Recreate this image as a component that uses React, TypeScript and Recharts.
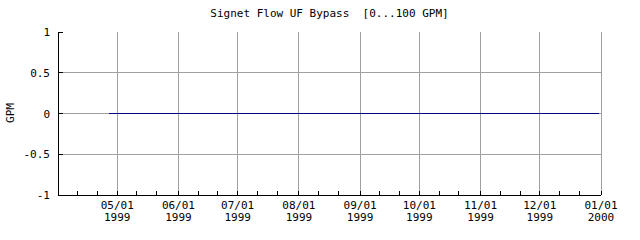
import React from 'react';
import { LineChart, Line, XAxis, YAxis, CartesianGrid } from 'recharts';

// series: Signet flow, UF bypass (GPM), flat at zero from late April
const flowDates = ['1999-04-27', '1999-06-01', '1999-08-01', '1999-10-01', '1999-12-01', '1999-12-31'];
const flowValues = [0, 0, 0, 0, 0, 0];

// axis ticks
const domainStart = '1999-04-01';
const domainEnd = '2000-01-01';
const monthTicks = [
  '1999-05-01', '1999-06-01', '1999-07-01', '1999-08-01', '1999-09-01',
  '1999-10-01', '1999-11-01', '1999-12-01', '2000-01-01',
];
const minorTicks = [
  '1999-04-11', '1999-04-21', '1999-05-11', '1999-05-21', '1999-06-11', '1999-06-21',
  '1999-07-11', '1999-07-21', '1999-08-11', '1999-08-21', '1999-09-11', '1999-09-21',
  '1999-10-11', '1999-10-21', '1999-11-11', '1999-11-21', '1999-12-11', '1999-12-21',
];
const yTicks = [-1, -0.5, 0, 0.5, 1];
const gridValues = [-0.5, 0, 0.5];

const titleText = 'Signet Flow UF Bypass  [0...100 GPM]';
const yLabel = 'GPM';

const FONT = '"DejaVu Sans Mono", "Liberation Mono", monospace';
const navy = '#000080';
const gray = '#a0a0a0';

const toTime = (d: string) => Date.parse(d + 'T00:00:00Z');

const data = flowDates.map((d, i) => ({ t: toTime(d), v: flowValues[i] }));
const majorTimes = monthTicks.map(toTime);
const majorSet = new Set(majorTimes);
const allTicks = [...majorTimes, ...minorTicks.map(toTime)].sort((a, b) => a - b);

const pad = (n: number) => (n < 10 ? '0' + n : String(n));

const BottomTick = (props: any) => {
  const { x, y, payload } = props;
  const t = payload.value as number;
  const d = new Date(t);
  return (
    <g>
      <line x1={x} x2={x} y1={y} y2={y - 4} stroke="#000" shapeRendering="crispEdges" />
      {majorSet.has(t) && (
        <g>
          <text x={x} y={y + 14} textAnchor="middle" fontFamily={FONT} fontSize={11} fill="#000">
            {pad(d.getUTCMonth() + 1) + '/' + pad(d.getUTCDate())}
          </text>
          <text x={x} y={y + 26} textAnchor="middle" fontFamily={FONT} fontSize={11} fill="#000">
            {d.getUTCFullYear()}
          </text>
        </g>
      )}
    </g>
  );
};

const TopTick = (props: any) => {
  const { x, y } = props;
  return <line x1={x} x2={x} y1={y} y2={y + 4} stroke="#000" shapeRendering="crispEdges" />;
};

const LeftTick = (props: any) => {
  const { x, y, payload } = props;
  return (
    <g>
      <line x1={x} x2={x + 5} y1={y} y2={y} stroke="#000" shapeRendering="crispEdges" />
      <text x={x - 8} y={y + 4} textAnchor="end" fontFamily={FONT} fontSize={11} fill="#000">
        {String(payload.value)}
      </text>
    </g>
  );
};

const RightTick = (props: any) => {
  const { x, y } = props;
  return <line x1={x} x2={x - 5} y1={y} y2={y} stroke="#000" shapeRendering="crispEdges" />;
};

const App: React.FC = () => {
  const axisStyle = { stroke: '#000', shapeRendering: 'crispEdges' } as any;
  return (
    <div style={{ position: 'absolute', left: 0, top: 0, width: 640, height: 240, background: '#fff' }}>
      <div
        style={{
          position: 'absolute', left: 58, top: 7, width: 543, textAlign: 'center',
          fontFamily: FONT, fontSize: 11, whiteSpace: 'pre', lineHeight: '14px', color: '#000',
        }}
      >
        {titleText}
      </div>
      <div
        style={{
          position: 'absolute', left: 11, top: 113, fontFamily: FONT, fontSize: 11, lineHeight: '14px',
          transform: 'translate(-50%, -50%) rotate(-90deg)', color: '#000',
        }}
      >
        {yLabel}
      </div>
      <LineChart width={640} height={240} data={data} margin={{ top: 32, right: 39, left: 0, bottom: 0 }}>
        <CartesianGrid
          xAxisId="b"
          yAxisId="l"
          stroke={gray}
          verticalValues={majorTimes}
          horizontalValues={gridValues}
          shapeRendering="crispEdges"
        />
        <XAxis
          xAxisId="b"
          dataKey="t"
          type="number"
          scale="time"
          domain={[toTime(domainStart), toTime(domainEnd)]}
          ticks={allTicks}
          interval={0}
          height={45}
          tickSize={0}
          tickMargin={0}
          axisLine={axisStyle}
          tickLine={false}
          tick={<BottomTick />}
        />
        <XAxis
          xAxisId="t"
          orientation="top"
          dataKey="t"
          type="number"
          scale="time"
          domain={[toTime(domainStart), toTime(domainEnd)]}
          ticks={allTicks}
          interval={0}
          height={0}
          tickSize={0}
          tickMargin={0}
          axisLine={axisStyle}
          tickLine={false}
          tick={<TopTick />}
        />
        <YAxis
          yAxisId="l"
          type="number"
          domain={[-1, 1]}
          ticks={yTicks}
          interval={0}
          width={58}
          tickSize={0}
          tickMargin={0}
          axisLine={axisStyle}
          tickLine={false}
          tick={<LeftTick />}
        />
        <YAxis
          yAxisId="r"
          orientation="right"
          type="number"
          domain={[-1, 1]}
          ticks={yTicks}
          interval={0}
          width={0}
          tickSize={0}
          tickMargin={0}
          axisLine={axisStyle}
          tickLine={false}
          tick={<RightTick />}
        />
        <Line
          xAxisId="b"
          yAxisId="l"
          type="linear"
          dataKey="v"
          stroke={navy}
          strokeWidth={1}
          dot={false}
          activeDot={false}
          isAnimationActive={false}
          shapeRendering="crispEdges"
        />
      </LineChart>
    </div>
  );
};

export default App;
